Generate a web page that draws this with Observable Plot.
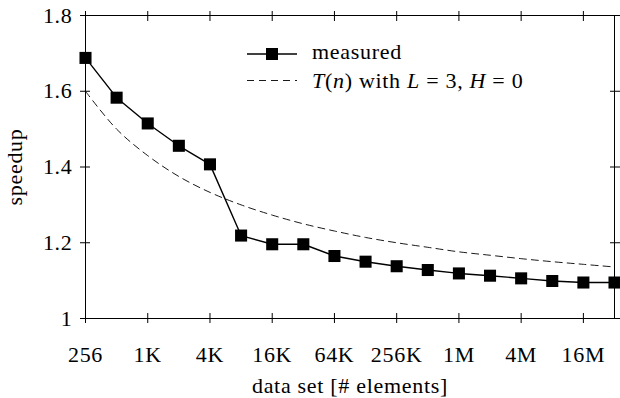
<!DOCTYPE html>
<html><head><meta charset="utf-8">
<script src="https://cdn.jsdelivr.net/npm/d3@7"></script>
<script src="https://cdn.jsdelivr.net/npm/@observablehq/plot@0.6"></script>
<style>
body{margin:0;background:#fff;font-family:"Liberation Serif","Times New Roman",Times,serif}
svg, svg text{font-family:"Liberation Serif","Times New Roman",Times,serif !important}
svg text{letter-spacing:0.7px}
</style>
</head><body><div id="chart"></div>
<script>
const sizes = [256, 512, 1024, 2048, 4096, 8192, 16384, 32768, 65536, 131072, 262144, 524288, 1048576, 2097152, 4194304, 8388608, 16777216, 33554432];
const measured = [1.688, 1.583, 1.515, 1.456, 1.407, 1.219, 1.196, 1.196, 1.165, 1.150, 1.138, 1.128, 1.119, 1.113, 1.106, 1.099, 1.095, 1.095];
const model = [1.600, 1.500, 1.430, 1.375, 1.333, 1.300, 1.273, 1.250, 1.231, 1.214, 1.200, 1.188, 1.176, 1.167, 1.158, 1.150, 1.143, 1.136];
const xTickValues = [256, 1024, 4096, 16384, 65536, 262144, 1048576, 4194304, 16777216];
const xTickLabels = ["256", "1K", "4K", "16K", "64K", "256K", "1M", "4M", "16M"];
const yTickValues = [1, 1.2, 1.4, 1.6, 1.8];
const yTickLabels = ["1", "1.2", "1.4", "1.6", "1.8"];
const seriesNames = ["measured", "T(n) with L = 3, H = 0"];

const measuredData = sizes.map((n, i) => ({n, v: measured[i]}));
const modelData = sizes.map((n, i) => ({n, v: model[i]}));
const blank = () => "";
const FONT = '"Liberation Serif", "Times New Roman", Times, serif';

const plot = Plot.plot({
  width: 620, height: 398,
  marginLeft: 85, marginRight: 6, marginTop: 15, marginBottom: 80,
  style: {fontFamily: FONT, fontSize: "22px", color: "#000", background: "#fff"},
  x: {type: "log", base: 2, domain: [256, 33554432]},
  y: {domain: [1, 1.8]},
  marks: [
    Plot.frame({stroke: "#000", strokeWidth: 1}),
    Plot.axisX(xTickValues, {anchor: "bottom", tickSize: 5, tickPadding: 23,
      tickFormat: d => xTickLabels[xTickValues.indexOf(d)],
      label: "data set [# elements]", labelAnchor: "center", labelArrow: "none", labelOffset: 74}),
    Plot.axisX(xTickValues, {anchor: "bottom", tickSize: -5, tickFormat: blank, label: null}),
    Plot.axisX(xTickValues, {anchor: "top", tickSize: 5, tickFormat: blank, label: null}),
    Plot.axisX(xTickValues, {anchor: "top", tickSize: -5, tickFormat: blank, label: null}),
    Plot.axisY(yTickValues, {anchor: "left", tickSize: 5, tickPadding: 8,
      tickFormat: d => yTickLabels[yTickValues.indexOf(d)],
      label: "speedup", labelAnchor: "center", labelArrow: "none", labelOffset: 79}),
    Plot.axisY(yTickValues, {anchor: "left", tickSize: -5, tickFormat: blank, label: null}),
    Plot.axisY(yTickValues, {anchor: "right", tickSize: 5, tickFormat: blank, label: null}),
    Plot.axisY(yTickValues, {anchor: "right", tickSize: -5, tickFormat: blank, label: null}),
    Plot.line(modelData, {x: "n", y: "v", stroke: "#000", strokeWidth: 0.9, strokeDasharray: "7,5", curve: "catmull-rom"}),
    Plot.line(measuredData, {x: "n", y: "v", stroke: "#000", strokeWidth: 1.4}),
    Plot.dot(measuredData, {x: "n", y: "v", symbol: "square", r: 6.8, fill: "#000", stroke: null})
  ]
});
document.getElementById("chart").append(plot);

// legend inside the plot area
const svg = d3.select(plot);
const lg = svg.append("g").attr("font-family", FONT).attr("font-size", 22).attr("fill", "#000").attr("text-anchor", "start");
lg.append("line").attr("x1", 247).attr("x2", 297).attr("y1", 54).attr("y2", 54).attr("stroke", "#000").attr("stroke-width", 1.4);
lg.append("rect").attr("x", 266).attr("y", 48).attr("width", 12).attr("height", 12).attr("fill", "#000");
lg.append("text").attr("x", 312).attr("y", 58.5).text(seriesNames[0]);
lg.append("line").attr("x1", 247).attr("x2", 297).attr("y1", 80.5).attr("y2", 80.5).attr("stroke", "#000").attr("stroke-width", 0.9).attr("stroke-dasharray", "7,5");
const t2 = lg.append("text").attr("x", 312).attr("y", 87.5);
[["T", true], ["(", false], ["n", true], [") with ", false], ["L", true], [" = 3, ", false], ["H", true], [" = 0", false]]
  .forEach(([s, it]) => t2.append("tspan").attr("font-style", it ? "italic" : "normal").text(s));
</script>
</body></html>
